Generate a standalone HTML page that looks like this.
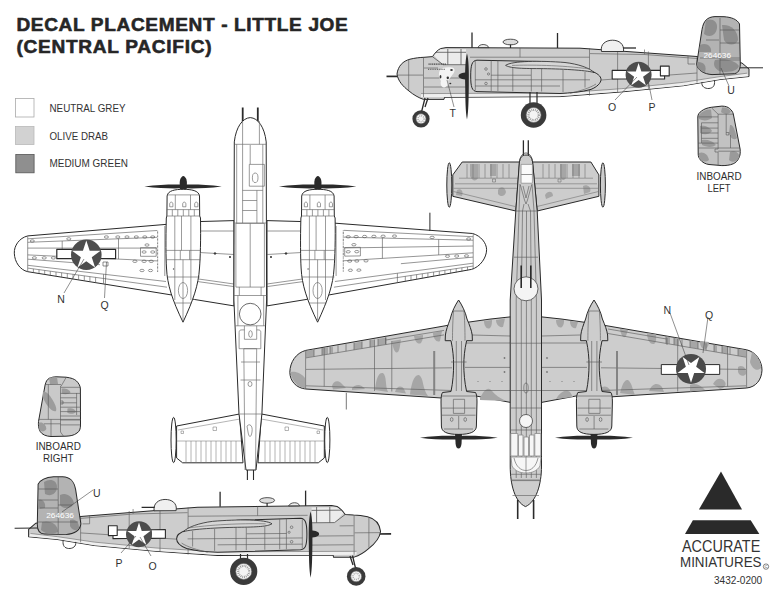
<!DOCTYPE html>
<html><head><meta charset="utf-8">
<style>
html,body{margin:0;padding:0;background:#fff;}
body{width:778px;height:597px;overflow:hidden;}
svg{display:block;}
text{font-family:"Liberation Sans",sans-serif;}
</style></head><body>
<svg width="778" height="597" viewBox="0 0 778 597">
<defs>
<polygon id="star" points="0,-1 0.2245,-0.309 0.951,-0.309 0.3633,0.118 0.5878,0.809 0,0.382 -0.5878,0.809 -0.3633,0.118 -0.951,-0.309 -0.2245,-0.309"/>
</defs>
<rect width="778" height="597" fill="#fff"/>

<!-- TITLE -->
<g fill="#262626" stroke="#262626" stroke-width="0.55" font-weight="bold">
<text transform="scale(1.09,1)" x="15.1" y="31.4" font-size="17.5" textLength="304" lengthAdjust="spacing">DECAL PLACEMENT - LITTLE JOE</text>
<text transform="scale(1.09,1)" x="15.1" y="52.8" font-size="17.5" textLength="179" lengthAdjust="spacing">(CENTRAL PACIFIC)</text>
</g>

<!-- LEGEND -->
<g>
<rect x="15.5" y="98.5" width="18.5" height="18.5" fill="#fff" stroke="#aaa" stroke-width="0.8"/>
<rect x="15.5" y="126.5" width="18.5" height="18" fill="#d2d2d2" stroke="#b8b8b8" stroke-width="0.8"/>
<rect x="15.8" y="154.5" width="18.3" height="18.3" fill="#8f8f8f" stroke="#555" stroke-width="0.8"/>
<g fill="#333" font-size="10.8">
<text x="49.5" y="112" textLength="76" lengthAdjust="spacingAndGlyphs">NEUTRAL GREY</text>
<text x="49.5" y="139.7" textLength="58.5" lengthAdjust="spacingAndGlyphs">OLIVE DRAB</text>
<text x="49.5" y="167" textLength="78.5" lengthAdjust="spacingAndGlyphs">MEDIUM GREEN</text>
</g>
</g>

<!-- SIDE VIEW airframe (facing left) -->
<defs>
<g id="airframe" stroke="#2a2a2a" stroke-width="1" stroke-linejoin="round">
  <line x1="472" y1="32.5" x2="472" y2="48" stroke-width="1.3"/>
  <line x1="557.5" y1="33" x2="557.5" y2="48" stroke-width="1.3"/>
  <line x1="386.5" y1="76.4" x2="404" y2="76.4" stroke-width="1.7"/>
  <path d="M397,74 C398,66 403,61 410,59.2 C415,58 420,57.4 424,57.3 L432.5,56.6 C435,53 437,50.5 440.5,48.6 L446,47.6 L580,48.2 L697,56.5 L742,63 L749,69 L749,76.5 L720,79.5 L683.4,85.7 L621.7,91.9 L560,96.6 L444.5,97.3 L444,99.4 L423.5,99.4 C419,98 413,94.5 409,91 C403,86.5 398,81 397,74 Z" fill="#cdcdcd"/>
  <path d="M421,93.6 L560,93 L621.7,88.7 L683.4,82.3 L720,76.6 L747,73.2 L748.5,76.2 L720,79.2 L683.4,85.4 L621.7,91.6 L560,96.3 L444.5,97 L421,97 Z" fill="#efefef" stroke="none"/>
  <path d="M421,93.6 L560,93 L621.7,88.7 L683.4,82.3 L720,76.6 L747,73.2" fill="none" stroke="#666" stroke-width="0.6"/>
  <g stroke="#5e5e5e" stroke-width="0.65" fill="none">
    <path d="M423.5,57.3 L423.5,97 M408.7,59.5 L408.7,90 M397.5,75.1 L423,75.1"/>
    <path d="M424,78 L466,78 M424,87 L466,87 M424,68 L438,68"/>
    <path d="M470,57.2 L589.5,57.2 M589.5,48.3 L589.5,95.6 M617.6,49.5 L617.6,92.2 M648.4,51.5 L648.4,89 M697,56.5 L697,82.5"/>
    <path d="M520,48 L520,57.2 M590,53.6 L644.5,54.5 L697,58.5 M644.5,49.5 L644.5,54.5 M688,56 L688,64 L695,64"/>
    <path d="M601,80 L697,73"/>
  </g>
  <path d="M434,55.5 C436.5,52.5 438.5,50.5 441,49.3 L466,49.3 L466,64.7 L443,64.7 Z" fill="#ececec" stroke="none"/>
  <path d="M432.3,56.6 L443.1,64.7 L466,64.7 M447.8,49 L447.8,64.7 M461,49 L461,64.7 M436,52.3 L466,52.3" stroke="#555" stroke-width="0.8" fill="none"/>
  <path d="M478,47.6 C479,43.5 487,43.5 489,47.6 Z" fill="#eee" stroke-width="0.8"/>
  <ellipse cx="510.5" cy="42" rx="7.5" ry="2.8" fill="#ddd" stroke-width="0.8"/>
  <line x1="510.5" y1="44.5" x2="510.5" y2="48" stroke-width="1.2"/>
  <path d="M601.5,51.5 C600,44 606,40.2 612.5,40.2 C619,40.2 624.5,44 623.5,51.5 Z" fill="#f0f0f0" stroke-width="0.9"/>
  <line x1="623" y1="48" x2="636" y2="48" stroke-width="1.3"/>
  <!-- nacelle -->
  <path d="M470.7,76 C470.7,65 472,60.5 477,60.2 L540,61.5 C560,63.5 580,67 591,71 C597,73 601,76 601,79.5 C601,83 597,87 591,89.4 C582,92 570,93 560,93.5 L477,91.6 C472,91.2 470.7,87 470.7,76 Z" fill="#cdcdcd"/>
  <path d="M505.6,65.4 C512,60.8 540,60.5 565,62.5 C578,64 590,68 594,72.5 C585,70 560,68.8 540,68.6 C520,68.6 510,68 505.6,65.4 Z" fill="#d6d6d6" stroke-width="0.8"/>
  <path d="M570,93.3 C580,91 590,88 596,84" stroke="#5e5e5e" stroke-width="0.65" fill="none"/>
  <path d="M512,65.4 C530,64.8 560,65 590,69" stroke="#666" stroke-width="0.65" fill="none"/>
  <g stroke="#5e5e5e" stroke-width="0.65" fill="none">
    <path d="M475.3,61 L475.3,90.5 M491.2,60.5 L491.2,91 M497.9,60.5 L497.9,91 M512.8,68 L512.8,91.3 M531.3,69 L531.3,91.5 M541.6,69 L541.6,91.5 M563,70 L563,92 M585,72 L585,87.5"/>
    <path d="M475,79.8 L590,79.8 M491,75.2 L531,75.2 M475,86 L560,86"/>
  </g>
  <g fill="none" stroke="#555" stroke-width="0.6"><circle cx="486" cy="69" r="1.3"/><circle cx="488.5" cy="74" r="1.1"/><circle cx="486" cy="83.5" r="1.3"/></g>
  <!-- vertical tail -->
  <path d="M702,29.5 C703.5,21 707,17 715,16.6 L724,16.7 C731,17.2 737,19 739.5,24 L740.3,64 C740.3,70 738,73.8 733,73.8 L712,74.6 C704,74 697.5,70.5 696.7,64 Z" fill="#b3b3b3"/>
  <line x1="740" y1="67.8" x2="763" y2="67.8" stroke-width="1"/>
  <path d="M702,82 C701,86.5 705,88.8 709,88.5 C713,88 715,86 714.5,80.5" fill="none" stroke-width="0.9"/>
  <!-- bars + star -->
  <rect x="612.2" y="70.4" width="14.5" height="8.6" fill="#fff" stroke-width="1.1"/>
  <rect x="650" y="70.4" width="14.6" height="8.6" fill="#fff" stroke-width="1.1"/>
  <rect x="660.4" y="66.1" width="8.8" height="9.8" fill="#fff" stroke-width="1.1"/>
  <circle cx="638.6" cy="74.8" r="13" fill="#4d4d4d" stroke="none"/>
  <use href="#star" transform="translate(638.6,75.3) scale(12.3)" fill="#fff" stroke="none"/>
  <!-- prop -->
  <path d="M467,53.5 C468.8,60 469,70 468.8,86 C468.6,100 468.5,112 467,119.6 C465.5,112 465.4,100 465.2,86 C465,70 465.2,60 467,53.5 Z" fill="#2a2a2a" stroke="none"/>
  <path d="M467,72.5 C462,72.5 458.5,74 458.5,76 C458.5,78 462,79.5 467,79.5 Z" fill="#2a2a2a" stroke="none"/>
</g>
<g id="tailcamoTR" fill="#8e8e8e" stroke="none">
    <path d="M706,20 C712,18 718,21 717,28 C716,36 709,38 704,34 Z"/>
    <path d="M722,25 C730,24 738,30 738,40 C736,46 727,46 724,40 Z"/>
    <path d="M700,45 C706,42 712,46 711,52 L699,52 Z"/>
    <path d="M715,60 C724,58 735,60 739,66 C737,72 726,73 719,71 C714,68 713,64 715,60 Z"/>
    <path d="M698,62 C704,62 707,66 705,72 C700,71 697,68 697,64 Z"/>
</g>
</defs>
<use href="#airframe"/>
<use href="#airframe" transform="matrix(-1 0.0079 0 1 777.6 454.4)"/>
<!-- TR specifics -->
<g stroke="#2a2a2a" stroke-width="1">
  <use href="#tailcamoTR"/>
  <g stroke="#555" stroke-width="0.6" fill="none">
    <path d="M720,18 L720,74 M720,30 L739,30 M720,43 L740,43 M720,60 L740,60 M700,58 L740,58 M706,40 L719,40"/>
  </g>
  <text x="703.5" y="57.8" font-size="7" fill="#fff" stroke="none" textLength="27.5" lengthAdjust="spacingAndGlyphs">264636</text>
  <path d="M440,70 C442,67.5 447,67 452,67.5 C455,68 455.5,71 453,74 C451,77 449,79 448,81 C449,84 447,87 444,87.5 C441,87 440,84 441,81 C439,78 438,74 440,70 Z" fill="#f4f4f4" stroke="none"/>
  <g fill="#333" stroke="none"><ellipse cx="440.5" cy="76.8" rx="0.9" ry="1.8"/><ellipse cx="447.8" cy="77.8" rx="1.2" ry="1.4"/><ellipse cx="451.5" cy="70" rx="1.3" ry="0.9"/><ellipse cx="450.3" cy="83.5" rx="1" ry="0.8"/>
  <path d="M428.5,64.2 L446,64.2" stroke="#444" stroke-width="1.3" stroke-dasharray="1.2 0.6"/><path d="M428,69.3 L445,69.3" stroke="#555" stroke-width="1" stroke-dasharray="1 0.8"/></g>
  <!-- main gear -->
  <path d="M530,92 L530,104 M537,92 L537,104" stroke-width="1.2"/>
  <circle cx="533.6" cy="115" r="12.8" fill="#3a3a3a" stroke="none"/>
  <circle cx="533.6" cy="115" r="7.5" fill="#f4f4f4" stroke="#666" stroke-width="0.65"/>
  <circle cx="533.6" cy="115" r="5.2" fill="none" stroke="#999" stroke-width="2.2" stroke-dasharray="0.9 0.9"/>
  <!-- nose gear -->
  <path d="M425,98 L423,106 L421.5,112 M428,98 L425,107" stroke-width="1.3" fill="none"/>
  <circle cx="421" cy="118.8" r="8.6" fill="#3a3a3a" stroke="none"/>
  <circle cx="421" cy="118.8" r="5" fill="#f4f4f4" stroke="#666" stroke-width="0.65"/>
  <circle cx="421" cy="118.8" r="3" fill="none" stroke="#aaa" stroke-width="1.5" stroke-dasharray="1 1"/>
  <g stroke="#444" stroke-width="0.6" fill="none">
    <line x1="447" y1="80" x2="454" y2="107"/>
    <line x1="637" y1="77" x2="615" y2="100"/>
    <line x1="648" y1="80" x2="652" y2="100"/>
    <line x1="721" y1="68" x2="729" y2="86"/>
  </g>
</g>
<!-- BL specifics -->
<g stroke="#2a2a2a" stroke-width="1">
  <g fill="#8e8e8e" stroke="none">
    <path d="M44,482 C50,478 57,480 57,487 C57,494 50,497 45,494 Z"/>
    <path d="M60,495 C66,492 72,496 74,503 C72,509 64,510 60,505 Z"/>
    <path d="M38,500 C42,498 46,502 45,508 L38,509 Z"/>
    <path d="M42,522 C50,520 58,524 58,532 C52,535 45,534 41,530 Z"/>
    <path d="M70,520 C75,518 79,522 79,528 C76,532 72,530 70,526 Z"/>
  </g>
  <g stroke="#555" stroke-width="0.6" fill="none">
    <path d="M58.2,477 L58.2,535 M38,489 L58,489 M38,500 L58,500 M38,522 L78,522 M40,508 L58,508 M58,505 L72,505"/>
  </g>
  <text x="46.2" y="518.4" font-size="7.5" fill="#fff" stroke="none" textLength="27.8" lengthAdjust="spacingAndGlyphs">264636</text>
  <!-- main gear -->
  <path d="M240.5,554 L240.5,561 M247.5,554 L247.5,561" stroke-width="1.2"/>
  <circle cx="243.7" cy="571.4" r="13.6" fill="#3a3a3a" stroke="none"/>
  <circle cx="243.7" cy="571.4" r="8" fill="#f4f4f4" stroke="#666" stroke-width="0.65"/>
  <circle cx="243.7" cy="571.4" r="5.5" fill="none" stroke="#999" stroke-width="2.2" stroke-dasharray="0.9 0.9"/>
  <!-- nose gear -->
  <path d="M352.5,555.5 L354.5,564 L356,570 M350,556 L353,565" stroke-width="1.3" fill="none"/>
  <circle cx="356.2" cy="576.4" r="9.3" fill="#3a3a3a" stroke="none"/>
  <circle cx="356.2" cy="576.4" r="5.4" fill="#f4f4f4" stroke="#666" stroke-width="0.65"/>
  <circle cx="356.2" cy="576.4" r="3.2" fill="none" stroke="#aaa" stroke-width="1.5" stroke-dasharray="1 1"/>
  <g stroke="#444" stroke-width="0.6" fill="none">
    <line x1="136" y1="536" x2="121" y2="553"/>
    <line x1="140" y1="537" x2="151" y2="556"/>
    <line x1="62" y1="512" x2="93" y2="490"/>
  </g>
</g>
<g fill="#333" font-size="10.5">
<text x="449.5" y="116.5">T</text>
<text x="608" y="111">O</text>
<text x="648.5" y="111">P</text>
<text x="727.3" y="94">U</text>
<text x="115.5" y="567">P</text>
<text x="148.5" y="570">O</text>
<text x="93" y="497">U</text>
</g>

<!-- BOTTOM VIEW (left large, nose up) -->
<g id="bottomV" stroke="#2a2a2a" stroke-width="1" stroke-linejoin="round">
  <!-- wings -->
  <path d="M234,220.6 L201,221.5 L167,224.3 L27.8,235.9 C19,238 14,246 14.3,253.2 C14.6,262 20,270 27.8,271.7 L171.2,294.9 L194.7,299.5 L234,305.9 Z" fill="#fff"/>
  <path d="M267,220.6 L300,221.5 L333.9,223.1 L472.7,233.5 C481,236 486.5,243 486.6,249.7 C486.5,258 480,267 471.5,269.4 L329.3,294.9 L306,299.5 L267,305.9 Z" fill="#fff"/>
  <!-- wing details -->
  <defs>
<g id="bwL">
  <g stroke="#5e5e5e" stroke-width="0.65" fill="none">
    <path d="M27.8,238.8 L157.0,230.5 M27.8,242.3 L157.0,237.3 M27.8,248.1 L157.0,248.1 M27.8,254.9 L157.0,260.9 M27.8,259.2 L100.0,264.7 M27.8,265.3 L166.0,281.5 M27.8,268.1 L167.0,287.2 M27.7,236.2 L27.7,271.4 M62.2,241.0 L62.2,256.5 M118.5,238.8 L118.5,259.1 M103.5,274.2 L103.5,283.9 M140.5,247.7 L156.2,247.7 L156.2,256.3 L140.5,256.3 Z"/>
    <path d="M33.4,268.9 L33.4,272.6 M39.0,269.7 L39.0,273.5 M44.7,270.4 L44.7,274.4 M50.3,271.2 L50.3,275.3 M56.0,272.0 L56.0,276.3 M61.6,272.8 L61.6,277.2 M67.3,273.5 L67.3,278.1 M73.0,274.3 L73.0,279.0 M78.6,275.1 L78.6,279.9 M84.3,275.9 L84.3,280.8 M89.9,276.6 L89.9,281.7 M95.6,277.4 L95.6,282.7"/>
    <ellipse cx="32.3" cy="241" rx="2.1" ry="1.2"/><ellipse cx="68.8" cy="238.9" rx="2.1" ry="1.2"/><ellipse cx="34.4" cy="257.9" rx="2.1" ry="1.2"/><ellipse cx="44.2" cy="257.9" rx="2.1" ry="1.2"/><ellipse cx="53.4" cy="257.9" rx="2.1" ry="1.2"/><ellipse cx="106.4" cy="237" rx="2.1" ry="1.2"/><ellipse cx="117.8" cy="237" rx="2.1" ry="1.2"/><ellipse cx="127" cy="237" rx="2.1" ry="1.2"/><ellipse cx="136.3" cy="237" rx="2.1" ry="1.2"/><ellipse cx="144.8" cy="237" rx="2.1" ry="1.2"/><ellipse cx="152.7" cy="237" rx="2.1" ry="1.2"/><ellipse cx="147" cy="245" rx="2.1" ry="1.2"/><ellipse cx="144.1" cy="252" rx="2.1" ry="1.2"/><ellipse cx="152.7" cy="252" rx="2.1" ry="1.2"/><ellipse cx="134.9" cy="261.3" rx="2.1" ry="1.2"/><ellipse cx="144.1" cy="261.3" rx="2.1" ry="1.2"/><ellipse cx="151.2" cy="261.3" rx="2.1" ry="1.2"/><ellipse cx="142" cy="270.5" rx="2.1" ry="1.2"/><ellipse cx="150.5" cy="270.5" rx="2.1" ry="1.2"/>
  </g>
  <path d="M157.6,230.7 L157.6,272" stroke="#666" stroke-width="1.1" stroke-dasharray="0.7 0.7" fill="none"/>
  <path d="M164.8,226 L164.8,276" stroke="#5e5e5e" stroke-width="0.65" fill="none"/>
</g>
  </defs>
  <use href="#bwL"/>
  <use href="#bwL" transform="matrix(-1 0.015 0 1 500.9 -2.5)"/>
  <g stroke="#5e5e5e" stroke-width="0.65" fill="none">
    <path d="M201,231 L234,231 M201,252.6 L234,254.5 M198.6,279 L234,284 M197.3,281.5 L234,286.6"/>
    <path d="M300,231 L267,231 M300,252.6 L267,254.5 M302.4,279 L267,284 M303.7,281.5 L267,286.6"/>
  </g>
  <g fill="#555"><circle cx="215" cy="253.5" r="0.8"/><circle cx="286" cy="253.5" r="0.8"/><circle cx="230" cy="257" r="0.6"/><circle cx="271" cy="257" r="0.6"/></g>
  <line x1="429.9" y1="212.7" x2="429.9" y2="231" stroke-width="1"/>
  <!-- nacelles -->
  <path d="M183.3,189.3 C175.3,189.3 167.8,190.5 167.1,196 L166.9,216 L166.3,218 C165.7,240 165.9,258 166.5,268 C167.3,285 172.3,300 183.0,322.2 C193.3,300 198.5,285 199.5,268 C200.3,258 200.9,240 200.5,218 L199.7,216 L199.5,196 C198.8,190.5 191.3,189.3 183.3,189.3 Z" fill="#fff"/>
  <g stroke="#666" stroke-width="0.65" fill="none">
    <path d="M167.5,194.9 L199.1,194.9 M166.9,209.6 L199.7,209.6 M166.9,216 L199.7,216 M175.3,194.9 L175.3,209.6 M190.5,194.9 L190.5,209.6 M172.3,209.6 L172.3,216 M177.8,209.6 L177.8,216 M183.3,209.6 L183.3,216 M188.8,209.6 L188.8,216 M194.3,209.6 L194.3,216 M174.8,216 L174.8,300 M190.9,216 L190.9,300 M181.5,216 L181.5,250.4 M183.0,259.7 L183.0,320 M166.0,250.4 L200.6,250.4 M166.0,259.7 L200.6,259.7 M180.3,250.4 L180.3,259.7 M189.6,250.4 L189.6,259.7 M166.8,277 L199.8,277 M174.3,303 L191.8,303"/>
    <ellipse cx="183.0" cy="290.5" rx="4.6" ry="8"/>
    <path d="M169.7,206.8 L169.7,204 C169.7,201.5 172.9,201.5 172.9,204 L172.9,206.8 Z M182.7,206.8 L182.7,204 C182.7,201.5 185.9,201.5 185.9,204 L185.9,206.8 Z M194.7,206.8 L194.7,204 C194.7,201.5 197.9,201.5 197.9,204 L197.9,206.8 Z"/>
  </g>
  <circle cx="173.5" cy="269" r="0.7" fill="#555" stroke="none"/>
  <path d="M317.9,189.3 C309.9,189.3 302.4,190.5 301.7,196 L301.5,216 L300.9,218 C300.3,240 300.5,258 301.1,268 C301.9,285 306.9,300 317.6,322.2 C327.9,300 333.1,285 334.1,268 C334.9,258 335.5,240 335.1,218 L334.3,216 L334.1,196 C333.4,190.5 325.9,189.3 317.9,189.3 Z" fill="#fff"/>
  <g stroke="#666" stroke-width="0.65" fill="none">
    <path d="M302.1,194.9 L333.7,194.9 M301.5,209.6 L334.3,209.6 M301.5,216 L334.3,216 M309.9,194.9 L309.9,209.6 M325.1,194.9 L325.1,209.6 M306.9,209.6 L306.9,216 M312.4,209.6 L312.4,216 M317.9,209.6 L317.9,216 M323.4,209.6 L323.4,216 M328.9,209.6 L328.9,216 M309.4,216 L309.4,300 M325.5,216 L325.5,300 M316.1,216 L316.1,250.4 M317.6,259.7 L317.6,320 M300.6,250.4 L335.2,250.4 M300.6,259.7 L335.2,259.7 M314.9,250.4 L314.9,259.7 M324.2,250.4 L324.2,259.7 M301.4,277 L334.4,277 M308.9,303 L326.4,303"/>
    <ellipse cx="317.6" cy="290.5" rx="4.6" ry="8"/>
    <path d="M304.3,206.8 L304.3,204 C304.3,201.5 307.5,201.5 307.5,204 L307.5,206.8 Z M317.3,206.8 L317.3,204 C317.3,201.5 320.5,201.5 320.5,204 L320.5,206.8 Z M329.3,206.8 L329.3,204 C329.3,201.5 332.5,201.5 332.5,204 L332.5,206.8 Z"/>
  </g>
  <circle cx="308.1" cy="269" r="0.7" fill="#555" stroke="none"/>
  <path d="M144.3,186.5 C160.3,184.5 174.3,184.2 183.3,184.7 C192.3,184.2 206.3,184.5 221.8,186.5 C206.3,188.6 192.3,188.6 183.3,188.3 C174.3,188.6 160.3,188.6 144.3,186.5 Z" fill="#2a2a2a" stroke="none"/>
  <path d="M183.3,176 C185.8,176.5 186.9,180 186.9,183 L186.7,189.3 L179.9,189.3 L179.7,183 C179.7,180 180.8,176.5 183.3,176 Z" fill="#2a2a2a" stroke="none"/>
  <path d="M278.9,186.5 C294.9,184.5 308.9,184.2 317.9,184.7 C326.9,184.2 340.9,184.5 356.4,186.5 C340.9,188.6 326.9,188.6 317.9,188.3 C308.9,188.6 294.9,188.6 278.9,186.5 Z" fill="#2a2a2a" stroke="none"/>
  <path d="M317.9,176 C320.4,176.5 321.5,180 321.5,183 L321.3,189.3 L314.5,189.3 L314.3,183 C314.3,180 315.4,176.5 317.9,176 Z" fill="#2a2a2a" stroke="none"/>
  <!-- horizontal tail -->
  <path d="M239.5,414 L176.6,426 L176.6,458 L182.6,462.8 L243,462.8 Z" fill="#fff"/>
  <path d="M261.5,414 L324.3,426 L324.3,458 L318.3,462.8 L258,462.8 Z" fill="#fff"/>
  <g stroke="#777" stroke-width="0.55" fill="none">
    <path d="M177,441 L241,441 M260,441 L324,441 M178,430 L240,419 M323,430 L261,419"/>
    <path d="M186,441 L186,462.8 M191,441 L191,462.8 M196,441 L196,462.8 M201,441 L201,462.8 M206,441 L206,462.8 M211,441 L211,462.8 M216,441 L216,462.8 M221,441 L221,462.8 M226,441 L226,462.8 M231,441 L231,462.8 M236,441 L236,462.8"/>
    <path d="M315,441 L315,462.8 M310,441 L310,462.8 M305,441 L305,462.8 M300,441 L300,462.8 M295,441 L295,462.8 M290,441 L290,462.8 M285,441 L285,462.8 M280,441 L280,462.8 M275,441 L275,462.8 M270,441 L270,462.8 M265,441 L265,462.8"/>
    <rect x="181" y="431" width="2.5" height="2.5"/><rect x="213" y="427" width="3.5" height="3.5"/><rect x="317" y="431" width="2.5" height="2.5"/><rect x="285" y="427" width="3.5" height="3.5"/>
  </g>
  <ellipse cx="173.6" cy="440" rx="2.6" ry="22.6" fill="#fff"/>
  <ellipse cx="327.3" cy="440" rx="2.6" ry="22.6" fill="#fff"/>
  <!-- fuselage -->
  <line x1="247.4" y1="468" x2="247.4" y2="480" stroke-width="1.1"/>
  <line x1="253.5" y1="468" x2="253.5" y2="480" stroke-width="1.1"/>
  <line x1="242.7" y1="107.5" x2="242.7" y2="124" stroke-width="1.8"/>
  <line x1="257.8" y1="107.5" x2="257.8" y2="124" stroke-width="1.8"/>
  <path d="M250.25,117.6 C258,118 264.5,127 266.2,141.9 L266.6,300 L261.9,414 L256,470 L246,470 L239,414 L233.9,300 L234.3,141.9 C236,127 242.5,118 250.25,117.6 Z" fill="#fff"/>
  <g stroke="#666" stroke-width="0.65" fill="none">
    <path d="M234.6,144.3 L266,144.3 M242.6,121 L242.6,144.3 M259.4,121 L259.4,144.3"/>
    <path d="M236.7,144.3 L236.7,223 M242.6,144.3 L242.6,223 M262.8,144.3 L262.8,223"/>
    <path d="M250.2,145 L250.2,164.4 L249.3,164.4 L249.3,186.2 L264.4,186.2 L264.4,164.4 L250.2,164.4"/>
    <ellipse cx="255.2" cy="177.8" rx="2.8" ry="4.8"/>
    <path d="M242.6,190.4 L262.8,190.4 M242.6,200.5 L256.9,200.5 M242.6,210.5 L256.9,210.5 M256.9,190.4 L256.9,223 M234.3,223 L266.2,223"/>
    <path d="M235.9,223.4 L264.4,223.4 L264.4,287.1 L235.9,287.1 Z M250.2,223.4 L250.2,287.1 M239.3,287.1 L239.3,295.5 M261.1,287.1 L261.1,295.5 M234,295.5 L266.5,295.5"/>
    <path d="M235.5,325.8 L265.5,325.8 M244.4,325.8 L244.4,339.3 L256.7,339.3 L256.7,325.8 M239.1,348.7 L239.1,332.5 C239.1,330.5 240,329.9 242,329.9 L244.4,329.9 M260.8,348.7 L260.8,332.5 C260.8,330.5 260,329.9 258,329.9 L256.7,329.9 M239.1,348.7 L260.8,348.7"/>
    <path d="M243.8,348.7 L256.7,348.7 M241,362 L260,362 M240.5,380 L260.5,380 M240,414 L261.5,414 M243.8,348.7 L245,470 M256.7,348.7 L255.5,470 M237.9,295.5 L237.9,325.8 M263.7,295.5 L263.7,325.8"/>
    <ellipse cx="250" cy="384" rx="2" ry="2.5"/>
    <path d="M247,426 C250,423 253,426 252,432 C251,438 249,438 248,432 Z"/>
  </g>
  <circle cx="250.2" cy="314.1" r="10.8" fill="#fff" stroke="#444" stroke-width="0.8"/>
  <ellipse cx="250.5" cy="334" rx="1.8" ry="3.3" fill="none" stroke="#555" stroke-width="0.6"/>
  <!-- star -->
  <rect x="56.8" y="249.3" width="58.8" height="9.4" fill="#fff" stroke-width="1.2"/>
  <circle cx="86.3" cy="254.8" r="15.3" fill="#4d4d4d" stroke="none"/>
  <use href="#star" transform="translate(86.3,255.4) scale(15)" fill="#fff" stroke="none"/>
  <!-- leaders -->
  <g stroke="#444" stroke-width="0.6" fill="none">
    <line x1="84" y1="259" x2="64" y2="293"/>
    <line x1="106.5" y1="262" x2="104.5" y2="298"/>
    <rect x="103" y="262" width="5" height="4"/>
  </g>
</g>
<g fill="#333" font-size="10.5">
<text x="57.3" y="303.3">N</text>
<text x="100.5" y="309">Q</text>
</g>

<!-- TOP VIEW (right large, nose down) -->
<g id="topV" stroke="#2a2a2a" stroke-width="1" stroke-linejoin="round">
  <!-- wings -->
  <path d="M511,316.8 L490,319.1 L468,322.2 L448.6,325.2 L305.7,350.4 C296,353 290,362 289.8,372.3 C290,381 296,388 305.7,389 L441.4,398 L476,396 L511,402.5 Z" fill="#cdcdcd"/>
  <path d="M541,316.8 L562,319.1 L584,322.2 L603.5,325.2 L746.7,349.8 C756,352 762,361 762,370.2 C761.5,380 756,387 746.7,388 L610.5,396.9 L576,396 L541,402.5 Z" fill="#cdcdcd"/>
  <!-- camo wings -->
  <g fill="#a6a6a6" stroke="none">
    <path d="M291,372 C296,371 302,374 305,378 L305,388.5 C298,387 293,382 291,375 Z"/>
    <path d="M332,386 C333,381 338,380 341,383 L346,388 L333,389.5 Z"/>
    <path d="M352,388 C356,384 361,384 365,389 L352,390 Z"/>
    <path d="M375,390 C376,380 378,372 383,373 C387,376 385,386 388,392 Z"/>
    <path d="M395,392 C397,386 401,385 404,389 L406,393.5 Z"/>
    <path d="M410,394.5 C411,385 414,374 419,375 C424,378 422,388 428,396 Z"/>
    <path d="M392,341 C393,349 395,354 398,352 C400,350 400,344 401,339.5 Z"/>
    <path d="M414,336 C415,342 418,345 421,343 C423,340 423,337 423,335 Z"/>
    <path d="M433,333 C433,339 437,343 440,341 L442,331 Z"/>
    <path d="M306,350.9 L314,349.5 L314,356.2 L306,357.6 Z M322,348.2 L328,347.2 L328,353.9 L322,354.9 Z M330,346.9 L333,346.4 L333,353.1 L330,353.6 Z M354,342.9 L362,341.5 L362,348.2 L354,349.6 Z M370,340.2 L374,339.5 L374,346.2 L370,346.9 Z M378,338.9 L386,337.5 L386,344.2 L378,345.6 Z"/>
    <path d="M484,321 C484,326 487,330 490,328 C492,326 492,322 492,320 Z"/>
    <path d="M496,320 C496,324 499,328 503,327 L505,318.5 Z"/>
    <path d="M480,398 C484,390 488,386 492,391 C495,395 500,398 506,401 L480,400 Z"/>
    <!-- right wing -->
    <path d="M752,352 C758,356 761,362 761,368 C757,372 752,369 750,362 Z"/>
    <path d="M738,367 C742,364 747,368 746,374 C744,377 739,376 738,372 Z"/>
    <path d="M690,385 C694,383 700,384 705,390 L690,391.5 Z"/>
    <path d="M713,384 C716,378 722,377 725,382 C727,385 724,388 720,389 Z"/>
    <path d="M649,391 C652,383 658,382 662,387 L664,392 Z"/>
    <path d="M620,393 C622,386 624,379 628,380 C632,383 632,388 635,395 Z"/>
    <path d="M594,395 C600,386 606,384 610,390 L612,397 Z"/>
    <path d="M556,399 C560,392 566,388 570,392 L573,397 Z"/>
    <path d="M647,333 C647,339 650,345 654,344 C657,342 656,338 656,334.5 Z"/>
    <path d="M700,341 C700,346 702,350 706,349 C708,347 709,344 709,342 Z"/>
    <path d="M620,329 C621,336 624,339 626,336 L628,330 Z"/>
    <path d="M556,320 C556,325 559,329 562,327 C564,325 564,322 564,320 Z"/>
    <path d="M570,321 C570,326 573,329 576,328 L578,322 Z"/>
    <path d="M738,348.8 L746,350.2 L746,356.9 L738,355.5 Z M722,346.1 L728,347.1 L728,353.8 L722,352.8 Z M714,344.7 L717,345.2 L717,351.9 L714,351.4 Z M690,340.6 L698,341.9 L698,348.6 L690,347.3 Z M674,337.8 L679,338.7 L679,345.4 L674,344.5 Z M666,336.4 L670,337.1 L670,343.8 L666,343.1 Z"/>
  </g>
  <g stroke="#5e5e5e" stroke-width="0.65" fill="none">
    <path d="M305.6,350.5 L305.6,389 M306,357.9 L386,344.5 M386,340.0 L444,330.4 M386,344.5 L444,334.9 M306,369.4 L452,367.8 M306,385.8 L452,390.5 M391.8,341 L391.8,391.5"/>
    <path d="M324.2,347.5 L324.2,386.5 M374.5,339.5 L374.5,391 M385.5,337.5 L385.5,344"/>
    <path d="M314.0,349.4 L314.0,356.5 M322.0,348.1 L322.0,355.2 M330.0,346.8 L330.0,353.9 M338.0,345.4 L338.0,352.5 M346.0,344.1 L346.0,351.2 M354.0,342.8 L354.0,349.9 M362.0,341.4 L362.0,348.5 M370.0,340.1 L370.0,347.2 M378.0,338.8 L378.0,345.9 M386.0,337.4 L386.0,344.5"/>
    <path d="M746.6,350 L746.6,388 M666,343.4 L746,357.2 M608,329.0 L666,338.9 M608,333.5 L666,343.4 M601,367.8 L746,369.4 M601,390.5 L746,385.8"/>
    <path d="M727.6,347 L727.6,386.5 M677.7,339 L677.7,391.5 M667,338 L667,345"/>
    <path d="M738.0,348.7 L738.0,355.8 M730.0,347.3 L730.0,354.4 M722.0,346.0 L722.0,353.1 M714.0,344.6 L714.0,351.7 M706.0,343.2 L706.0,350.3 M698.0,341.8 L698.0,348.9 M690.0,340.5 L690.0,347.6 M682.0,339.1 L682.0,346.2 M674.0,337.7 L674.0,344.8 M666.0,336.3 L666.0,343.4"/>
    <path d="M472,335 L510,336 M542,336 L580,335 M466,343 L510,343 M542,343 L586,343 M465,367.4 L510,367.4 M542,367.4 L587,367.4 M466,390.5 L510,390.5 M542,390.5 L586,390.5"/>
  </g>
  <g fill="#777" stroke="none">
    <rect x="433.2" y="351" width="2" height="44" opacity="0.85"/>
    <rect x="616" y="351" width="2" height="44" opacity="0.85"/>
    <circle cx="504.5" cy="358" r="0.9"/><circle cx="504.5" cy="372" r="0.9"/><circle cx="547" cy="358" r="0.9"/><circle cx="547" cy="372" r="0.9"/>
    <circle cx="478" cy="381.5" r="0.6"/><circle cx="490" cy="381.5" r="0.6"/><circle cx="502" cy="381.5" r="0.6"/><circle cx="550" cy="381.5" r="0.6"/><circle cx="562" cy="381.5" r="0.6"/><circle cx="574" cy="381.5" r="0.6"/>
  </g>
  <!-- nacelles -->
  <path d="M458.6,300 C462.0,305 465.5,312 467.0,319 C469.5,325 471.5,330 472.2,335 L472.4,340.7 L466.6,340.7 C464.5,350 463.8,358 463.8,365 C463.8,372 464.5,382 466.6,391.5 L475.5,392.5 C476.5,394 477.0,397 477.0,402 L476.4,426 C476.4,432 470.0,434.4 458.6,434.4 C447.0,434.4 441.4,432 441.4,426 L441.0,402 C441.0,397 441.5,394 442.5,392.5 L451.0,391.5 C453.0,382 453.6,372 453.6,365 C453.6,358 453.0,350 451.0,340.7 L445.2,340.7 L445.4,335 C446.0,330 448.0,325 450.2,319 C451.7,312 455.2,305 458.6,300 Z" fill="#cdcdcd"/>
  <path d="M594.0,300 C597.4,305 600.9,312 602.4,319 C604.9,325 606.9,330 607.6,335 L607.8,340.7 L602.0,340.7 C599.9,350 599.2,358 599.2,365 C599.2,372 599.9,382 602.0,391.5 L610.9,392.5 C611.9,394 612.4,397 612.4,402 L611.8,426 C611.8,432 605.4,434.4 594.0,434.4 C582.4,434.4 576.8,432 576.8,426 L576.4,402 C576.4,397 576.9,394 577.9,392.5 L586.4,391.5 C588.4,382 589.0,372 589.0,365 C589.0,358 588.4,350 586.4,340.7 L580.6,340.7 L580.8,335 C581.4,330 583.4,325 585.6,319 C587.1,312 590.6,305 594.0,300 Z" fill="#cdcdcd"/>
  <g stroke="#5e5e5e" stroke-width="0.65" fill="none">
    <path d="M453,311 L464,311 M453.5,311 C452.5,325 452.5,335 452.5,340.7 M464,311 C465,325 465,335 465,340.7 M456.3,341 L456.3,391 M461.5,341 L461.5,391 M451,362 L466.6,362 M442,396 L476,396"/>
    <path d="M442,408.1 L475.5,408.1 M442,415.2 L475.5,415.2 M458.7,416 L458.7,429 M453.4,399.3 L464.6,399.3 L464.6,413.4 L453.4,413.4 Z M444,429 L473,429"/>
    <ellipse cx="451.7" cy="419.5" rx="1.3" ry="2"/><ellipse cx="465.2" cy="419.5" rx="1.3" ry="2"/>
    <path d="M588.4,311 L599.4,311 M588.9,311 C587.9,325 587.9,335 587.9,340.7 M599.4,311 C600.4,325 600.4,335 600.4,340.7 M591.7,341 L591.7,391 M596.9,341 L596.9,391 M586.4,362 L602,362 M577.4,396 L611.4,396"/>
    <path d="M577.4,408.1 L610.9,408.1 M577.4,415.2 L610.9,415.2 M594.1,416 L594.1,429 M588.8,399.3 L600,399.3 L600,413.4 L588.8,413.4 Z M579.4,429 L608.4,429"/>
    <ellipse cx="587.1" cy="419.5" rx="1.3" ry="2"/><ellipse cx="600.6" cy="419.5" rx="1.3" ry="2"/>
  </g>
  <!-- props -->
  <path d="M420,437.7 C435,435.5 450,435.3 458.6,436 C467,435.3 482,435.5 497.8,437.7 C482,439.8 467,439.8 458.6,439.4 C450,439.8 435,439.8 420,437.7 Z" fill="#2a2a2a" stroke="none"/>
  <path d="M555,437.7 C570,435.5 585,435.3 594,436 C602.4,435.3 617.4,435.5 633,437.7 C617.4,439.8 602.4,439.8 594,439.4 C585,439.8 570,439.8 555,437.7 Z" fill="#2a2a2a" stroke="none"/>
  <path d="M455,434 L462,434 L461.5,444 C461,447 460,448.5 458.6,448.6 C457,448.5 456,447 455.6,444 Z" fill="#2a2a2a" stroke="none"/>
  <path d="M590.5,434 L597.5,434 L597,444 C596.5,447 595.5,448.5 594,448.6 C592.5,448.5 591.5,447 591,444 Z" fill="#2a2a2a" stroke="none"/>
  <!-- horizontal tail -->
  <path d="M519.5,162 L462.2,162 L452.8,174.9 L452.8,196.3 L515.8,211 Z" fill="#cdcdcd"/>
  <path d="M532.5,162 L590.9,162 L598.9,174.9 L598.9,196.3 L537.2,211 Z" fill="#cdcdcd"/>
  <g fill="#a6a6a6" stroke="none">
    <path d="M470,164 L478,164 L478,178 C476,182 472,181 470,176 Z"/>
    <path d="M490,164 L496,164 L496,176 L490,176 Z"/>
    <path d="M498,190 C500,186 505,186 506,192 C505,197 500,197 498,194 Z"/>
    <path d="M457,190 C460,188 464,190 462,196 L456,195 Z"/>
    <path d="M560,164 L566,164 L566,178 C564,181 561,181 560,176 Z"/>
    <path d="M572,164 L580,164 L580,176 L572,176 Z"/>
    <path d="M545,195 C548,190 553,191 553,196 L546,199 Z"/>
    <path d="M583,186 C586,184 592,186 590,192 L584,194 Z"/>
  </g>
  <g stroke="#6a6a6a" stroke-width="0.55" fill="none">
    <path d="M459,178.2 L518,178.2 M455,183.8 L517.5,183.8 M534,178.2 L593,178.2 M534.5,183.8 L597,183.8 M453.5,188.3 L517,188.3 M535,188.3 L598.5,188.3 M453.5,191.5 L515,206.5 M598.5,191.5 L537,206.5"/>
    <path d="M467,164 L467,178 M473,164 L473,178 M479,164 L479,178 M485,164 L485,178 M491,164 L491,178 M497,164 L497,178 M503,164 L503,178 M509,164 L509,178"/>
    <path d="M543,164 L543,178 M549,164 L549,178 M555,164 L555,178 M561,164 L561,178 M567,164 L567,178 M573,164 L573,178 M579,164 L579,178 M585,164 L585,178"/>
    <rect x="492.5" y="179" width="3" height="3"/><rect x="558" y="179" width="3" height="3"/>
  </g>
  <ellipse cx="449.3" cy="185" rx="2.5" ry="22.2" fill="#cdcdcd"/>
  <ellipse cx="602.9" cy="185" rx="2.5" ry="22.2" fill="#cdcdcd"/>
  <!-- fuselage -->
  <line x1="523.4" y1="140.3" x2="523.4" y2="157" stroke-width="1.3"/>
  <line x1="528.3" y1="140.3" x2="528.3" y2="157" stroke-width="1.3"/>
  <path d="M526,155 C530,155 532.4,158 532.6,162 L537.2,211 L541.5,300 L541.5,466 C541.5,485 536,502 525.5,506.6 C515,502 510.2,485 510.2,466 L510.2,300 L515.8,211 L519.4,162 C519.6,158 522,155 526,155 Z" fill="#cdcdcd"/>
  <path d="M521.1,164.4 L532.4,164.4 L532.4,183.2 L521.1,183.2 Z" fill="#fafafa" stroke="#777" stroke-width="0.6"/>
  <path d="M521.1,174.5 L532.4,174.5" stroke="#777" stroke-width="0.8"/>
  <path d="M520,161 C520,156 523,153 526,153 C529,153 532,156 532,161" fill="none" stroke="#444" stroke-width="0.8"/>

  <g stroke="#5e5e5e" stroke-width="0.65" fill="none">
    <path d="M520.3,184.7 L524.5,200 L526,204 L527.5,200 L531.7,184.7 M523,186 L526,198 L529,186"/>
    <path d="M520,184 L519,211 M532,184 L534,211 M524,204 L522.5,211 M528,204 L530.5,211"/>
    <path d="M519,211 L516.2,300 L516.2,478 M522.5,211 L521.3,300 L521.3,478 M526.5,211 L526.3,478 M530.5,211 L531.3,300 L531.3,478 M534,211 L536.4,300 L536.4,478 M514,257.2 L538,257.2"/>
    <path d="M515.5,211 L536.5,211 M511,343.2 L541,343.2 M511,390.5 L541,390.5 M511,408 L541,408 M511,430 L541,430 M511,480 L541,480"/>
    <ellipse cx="526" cy="388" rx="2.2" ry="5"/>
  </g>
  <!-- nose glazing -->
  <line x1="517.7" y1="500" x2="517.7" y2="519" stroke-width="1.6"/>
  <line x1="533.6" y1="500" x2="533.6" y2="519" stroke-width="1.6"/>
  <g fill="#f6f6f6" stroke="#8a8a8a" stroke-width="0.8">
    <rect x="510.8" y="433.5" width="7" height="22.5"/>
    <rect x="518.5" y="435" width="4.5" height="21"/>
    <rect x="524" y="437" width="4.5" height="19"/>
    <rect x="529.5" y="435" width="4.5" height="21"/>
    <rect x="534.8" y="433.5" width="6" height="22.5"/>
    <path d="M511,457 L541,457 L540,466 C537,471 532,473 526,473 C520,473 515,471 512,466 Z"/>
  </g>
  <path d="M514,458 C516,467 521,470.5 526,470.5 C531,470.5 536,467 538,458 M526,457 L526,473 M510.5,474.3 L541.5,474.3 M511,480.6 L541,480.6 M512.5,495.5 L539,495.5" stroke="#666" stroke-width="0.65" fill="none"/>
  <!-- astrodome & turret -->
  <circle cx="526" cy="421" r="6.5" fill="#f6f6f6" stroke="#444" stroke-width="0.8"/>
  <circle cx="526" cy="288.8" r="12" fill="#f4f4f4" stroke="#444" stroke-width="0.8"/>
  <line x1="521.2" y1="265.5" x2="521.2" y2="288" stroke-width="1.6"/>
  <line x1="530.8" y1="265.5" x2="530.8" y2="288" stroke-width="1.6"/>
  <!-- antenna -->
  <line x1="346.3" y1="392.8" x2="346.3" y2="409.5" stroke="#777" stroke-width="1"/>
  <!-- star -->
  <rect x="661.3" y="364.6" width="58.4" height="9.8" fill="#fff" stroke-width="1"/>
  <circle cx="691" cy="368.9" r="15" fill="#4a4a4a" stroke="none"/>
  <use href="#star" transform="translate(691,368.5) scale(14.2) rotate(180)" fill="#fff" stroke="none"/>
  <!-- leaders -->
  <g stroke="#444" stroke-width="0.6" fill="none">
    <line x1="670" y1="313" x2="689" y2="365"/>
    <line x1="708" y1="317" x2="703" y2="353"/>
  </g>
</g>
<g fill="#333" font-size="10.5">
<text x="663.5" y="314">N</text>
<text x="705" y="318.5">Q</text>
</g>

<!-- INBOARD LEFT -->
<g stroke="#2a2a2a" stroke-width="1">
  <path d="M697.8,117 C697.9,114 699.5,112.5 701.5,111 C704,109 707.5,107.8 711.2,107.3 L721.9,106.1 C725.5,106.2 728,107 729.6,108.5 C731.5,110 732.8,112 733.3,114 L740.1,149 C740.5,152.5 740.2,155.5 739,157.8 C737.5,161 735.5,162.8 733.2,163.8 C730,165.2 726,165.6 721.9,165.6 L709,164.5 C705.5,164 702.5,162.5 700.5,160 C698.8,158 698.2,156 698.2,154 Z" fill="#c2c2c2"/>
  <g fill="#9a9a9a" stroke="none">
    <path d="M699,115 C702,111 707,109 711,109.5 L712,118 C708,121 703,121 699,119 Z"/>
    <path d="M700,126 C704,125 710,127 712,131 C709,135 704,135 700,133 Z"/>
    <path d="M702,140 C707,139 713,141 716,145 C712,148 706,147 702,145 Z"/>
    <path d="M722,107.5 C726,107 730,109 731,112 C728,115 723,114 721,112 Z"/>
    <path d="M730,125 C733,124 735,130 737,138 C734,141 730,138 729,133 Z"/>
    <path d="M699,153 C703,151 708,154 709,160 C705,163 701,161 699,158 Z"/>
    <path d="M730,152 C734,150 739,152 739.5,157 C737,162 732,163 729,160 Z"/>
  </g>
  <g stroke="#555" stroke-width="0.6" fill="none">
    <path d="M711.7,108 L718.1,114.2 L718.1,149 L715,149 L715,152 L718.1,152 L718.1,165.3 M698,116.9 L718.1,116.9 M701.5,122.8 L718.1,122.8 M701.5,128.1 L718.1,128.1 M701.5,133 L718.1,133 M701.5,138.3 L718.1,138.3 M698,143.1 L718.1,143.1 M701.5,122.8 L701.5,143.1 M718.1,114.2 L733.2,114.2"/>
    <path d="M726.2,114 L726.2,135 M726.2,132.5 L728.8,132.5 L728.8,135 L726.2,135 M730.5,135 L730.5,148 M698.2,148 L740,148 M718.1,151.2 L739.5,151.2"/>
  </g>
</g>
<g fill="#2e2e2e" font-size="10">
<text x="696.6" y="180.3" textLength="45" lengthAdjust="spacingAndGlyphs">INBOARD</text>
<text x="707.6" y="192.3" textLength="23" lengthAdjust="spacingAndGlyphs">LEFT</text>
</g>
<!-- INBOARD RIGHT -->
<g stroke="#2a2a2a" stroke-width="1">
  <path d="M45.1,385 C46,381.5 47,379.5 49,378.5 C51.5,377.2 54,376.8 57,376.8 L66,377.2 C71,377.8 74.5,379 76.5,381 C79,383.5 80.3,386 80.4,389 L80.5,425 C80.5,429 79.5,431.5 77,433 C74,435.5 70,436 66,436.2 L51,436.5 C46,436.3 42,434.5 40.2,431.5 C38.5,428.5 38.2,425 38.5,421.5 Z" fill="#c9c9c9"/>
  <g fill="#9c9c9c" stroke="none">
    <path d="M43,392 C46,391 49,394 52,399 C55,404 57,408 56,411 C53,412 50,409 47,405 C44,401 42,396 43,392 Z"/>
    <path d="M38.6,423 C42,421.5 46,424 46.3,429 C45,432 41,432 39.5,430 Z"/>
    <path d="M61.7,388.5 C65,388 70,389.5 70.5,392.5 C69,394.5 64,394.5 61.7,393.5 Z"/>
    <path d="M67.5,408.5 C71,407.5 75.5,409 76,412 C74,414.5 69,414 67.2,412.5 Z"/>
    <path d="M49,377.5 L57,377 L58,384 L50,384.5 Z"/>
  </g>
  <g stroke="#555" stroke-width="0.6" fill="none">
    <path d="M66.1,377.5 L61.1,386.2 L60.5,386.2 L60.5,432 L63.5,436.2 M45.5,384.5 L61,384.5 M61,387.3 L80.3,387.3"/>
    <path d="M60.5,393.4 L80.4,393.4 M60.5,397.8 L76.6,397.8 M60.5,402.8 L76.6,402.8 M60.5,407.2 L80.4,407.2 M60.5,411.6 L80.4,411.6 M60.5,416 L80.4,416 M60.5,420 L80.4,420 M60.5,424.9 L80.4,424.9 M76.6,393 L76.6,415"/>
    <path d="M48.3,384.5 L48.3,419.4 M38.6,419.4 L80.5,419.4 M44,423.8 L60.5,423.8 M51,419.4 L51,436 M60.5,401 L63,401 L63,404 L60.5,404"/>
  </g>
</g>
<g fill="#2e2e2e" font-size="10">
<text x="35.7" y="449.5" textLength="45.2" lengthAdjust="spacingAndGlyphs">INBOARD</text>
<text x="43" y="462.4" textLength="30.5" lengthAdjust="spacingAndGlyphs">RIGHT</text>
</g>
<!-- LOGO -->
<g fill="#2a2a2a">
  <polygon points="721,471.5 742,509.6 698.9,509.6"/>
  <polygon points="692.9,520.2 750.7,520.2 759.3,534.1 685,534.1"/>
  <g fill="#333">
  <text x="682" y="552.4" font-size="15.6" textLength="78.3" lengthAdjust="spacingAndGlyphs">ACCURATE</text>
  <text x="680" y="567" font-size="15.5" textLength="81.5" lengthAdjust="spacingAndGlyphs">MINIATURES</text>
  <circle cx="766" cy="566.6" r="2.7" fill="none" stroke="#333" stroke-width="0.6"/>
  <text x="764.6" y="568.2" font-size="4.2">C</text>
  <text x="714" y="583.8" font-size="10.6" textLength="48.2" lengthAdjust="spacingAndGlyphs">3432-0200</text>
  </g>
</g>

</svg></body></html>
